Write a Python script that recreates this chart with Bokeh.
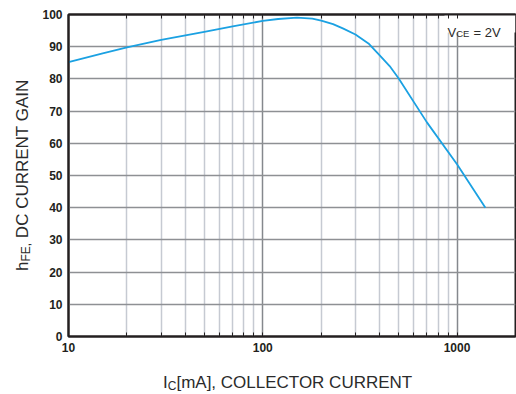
import math
from bokeh.plotting import figure
from bokeh.models import (FixedTicker, LogAxis, Label, BoxAnnotation, ColumnDataSource,
                          Range1d, NumeralTickFormatter, Div)
from bokeh.layouts import row, column
from bokeh.embed import file_html
from bokeh.resources import INLINE

# ---- data ----
ic_ma = [10, 15, 20, 30, 40, 50, 70, 100, 120, 150, 180, 200, 230, 260, 300, 350, 400, 450, 500, 700, 1000, 1400]
hfe = [85.2, 87.9, 89.8, 92.1, 93.5, 94.6, 96.3, 98.0, 98.6, 99.0, 98.7, 98.1, 97.0, 95.6, 93.8, 91.0, 87.3, 84.0, 80.2, 66.5, 53.5, 40.0]

x_major = [10, 100, 1000]
x_minor = [20, 30, 40, 50, 60, 70, 80, 90, 200, 300, 400, 500, 600, 700, 800, 900]
y_ticks = [0, 10, 20, 30, 40, 50, 60, 70, 80, 90, 100]
x_lo, x_hi = 10, 2000
y_lo, y_hi = 0, 100

x_title_main = "I"
x_title_sub = "C"
x_title_rest = "[mA], COLLECTOR CURRENT"
y_title_main = "h"
y_title_sub = "FE,"
y_title_rest = " DC CURRENT GAIN"
note_main, note_sub, note_rest = "V", "CE", "= 2V"

# ---- layout ----
TOTAL_W, TOTAL_H = 516, 394
YDIV_W = 34
XDIV_H = 36
W = TOTAL_W - YDIV_W
H = TOTAL_H - XDIV_H
BL, BR, BT, BB = 68 - YDIV_W, 1, 14, 22
FW = W - BL - BR
FH = H - BT - BB
FL = YDIV_W + BL        # page x of frame left
FT = BT
FB = FT + FH            # page y of frame bottom

def px2x(px):
    return 10 ** (math.log10(x_lo) + (px - FL) / FW * (math.log10(x_hi) - math.log10(x_lo)))

def py2y(py):
    return y_lo + (FB - py) / FH * (y_hi - y_lo)

TXT = "#231f20"
LBL = "#2b2b2b"
FONT = "Liberation Sans"

p = figure(width=W, height=H, x_axis_type="log", output_backend="svg",
           toolbar_location=None, x_range=Range1d(x_lo, x_hi), y_range=Range1d(y_lo, y_hi),
           min_border_left=BL, min_border_right=BR, min_border_top=BT, min_border_bottom=BB,
           margin=0)
p.background_fill_color = "white"
p.border_fill_color = "white"
p.outline_line_color = TXT
p.outline_line_width = 2

xt = FixedTicker(ticks=x_major, minor_ticks=x_minor)
yt = FixedTicker(ticks=y_ticks, minor_ticks=[])

xa = p.xaxis[0]
xa.ticker = xt
xa.formatter = NumeralTickFormatter(format="0")
xa.axis_line_color = TXT
xa.axis_line_width = 2
xa.major_tick_out = 0
xa.minor_tick_out = 0
xa.major_tick_in = 4
xa.minor_tick_in = 4
xa.major_tick_line_color = TXT
xa.minor_tick_line_color = TXT
xa.major_label_text_font = FONT
xa.major_label_text_font_style = "bold"
xa.major_label_text_font_size = "12px"
xa.major_label_text_color = TXT
xa.major_label_standoff = 6

ya = p.yaxis[0]
ya.ticker = yt
ya.axis_line_color = TXT
ya.axis_line_width = 2
ya.major_tick_out = 0
ya.major_tick_in = 0
ya.minor_tick_out = 0
ya.minor_tick_in = 0
ya.major_label_text_font = FONT
ya.major_label_text_font_style = "bold"
ya.major_label_text_font_size = "12px"
ya.major_label_text_color = TXT
ya.major_label_standoff = 6

top = LogAxis(ticker=xt, major_label_text_font_size="1px", major_label_text_alpha=0,
              major_label_standoff=0,
              axis_line_color=TXT, axis_line_width=2,
              major_tick_out=0, minor_tick_out=0, major_tick_in=4, minor_tick_in=4,
              major_tick_line_color=TXT, minor_tick_line_color=TXT)
p.add_layout(top, "above")

p.xgrid.ticker = xt
p.xgrid.grid_line_color = "#85888d"
p.xgrid.grid_line_width = 1.5
p.xgrid.minor_grid_line_color = "#c6cad2"
p.xgrid.minor_grid_line_width = 1.5
p.ygrid.ticker = yt
p.ygrid.grid_line_color = "#8e9094"
p.ygrid.grid_line_width = 1.5

src = ColumnDataSource(dict(x=ic_ma, y=hfe))
p.line("x", "y", source=src, line_color="#1ba1e2", line_width=1.8, line_join="round")

# white box behind the condition note
p.add_layout(BoxAnnotation(left=px2x(444), right=x_hi, bottom=py2y(32), top=y_hi,
                           fill_color="white", fill_alpha=1, line_alpha=0, level="underlay"))

def lab(text, px, py, size):
    p.add_layout(Label(x=px2x(px), y=py2y(py), text=text,
                       text_font=FONT, text_font_size=f"{size}px",
                       text_color=LBL, text_align="left", text_baseline="alphabetic"))

# condition note: V_CE = 2V
lab(note_main, 447, 31.5, 13)
lab(note_sub, 455.7, 33, 9.5)
lab(note_rest, 473, 31.5, 13)

FS = 17
SUB = 12
base_css = (f"font-family:'{FONT}';font-size:{FS}px;line-height:1;color:{LBL};"
            "white-space:nowrap;position:absolute;")
sub_css = f"font-size:{SUB}px;vertical-align:-2px;"

def title_html(main, sub, rest):
    return f'{main}<span style="{sub_css}">{sub}</span>{rest}'

# x axis title (div below the plot, page y offset H)
x_left = 163
x_top = 388 - H - 14.4
xdiv = Div(width=TOTAL_W, height=XDIV_H, margin=0,
           text=(f'<div style="position:relative;width:{TOTAL_W}px;height:{XDIV_H}px;">'
                 f'<div style="{base_css}left:{x_left}px;top:{x_top:.1f}px;">'
                 f'{title_html(x_title_main, x_title_sub, x_title_rest)}</div></div>'))

# y axis title (rotated, div left of the plot)
y_left = 28 - 14.4
y_start = 271
ydiv = Div(width=YDIV_W, height=H, margin=0,
           text=(f'<div style="position:relative;width:{YDIV_W}px;height:{H}px;">'
                 f'<div style="{base_css}left:{y_left:.1f}px;top:{y_start}px;'
                 f'transform:rotate(-90deg);transform-origin:0 0;">'
                 f'{title_html(y_title_main, y_title_sub, y_title_rest)}</div></div>'))

layout = column(row(ydiv, p, spacing=0, margin=0), xdiv, spacing=0, margin=0)

open("out.html", "w").write(file_html(layout, INLINE))
